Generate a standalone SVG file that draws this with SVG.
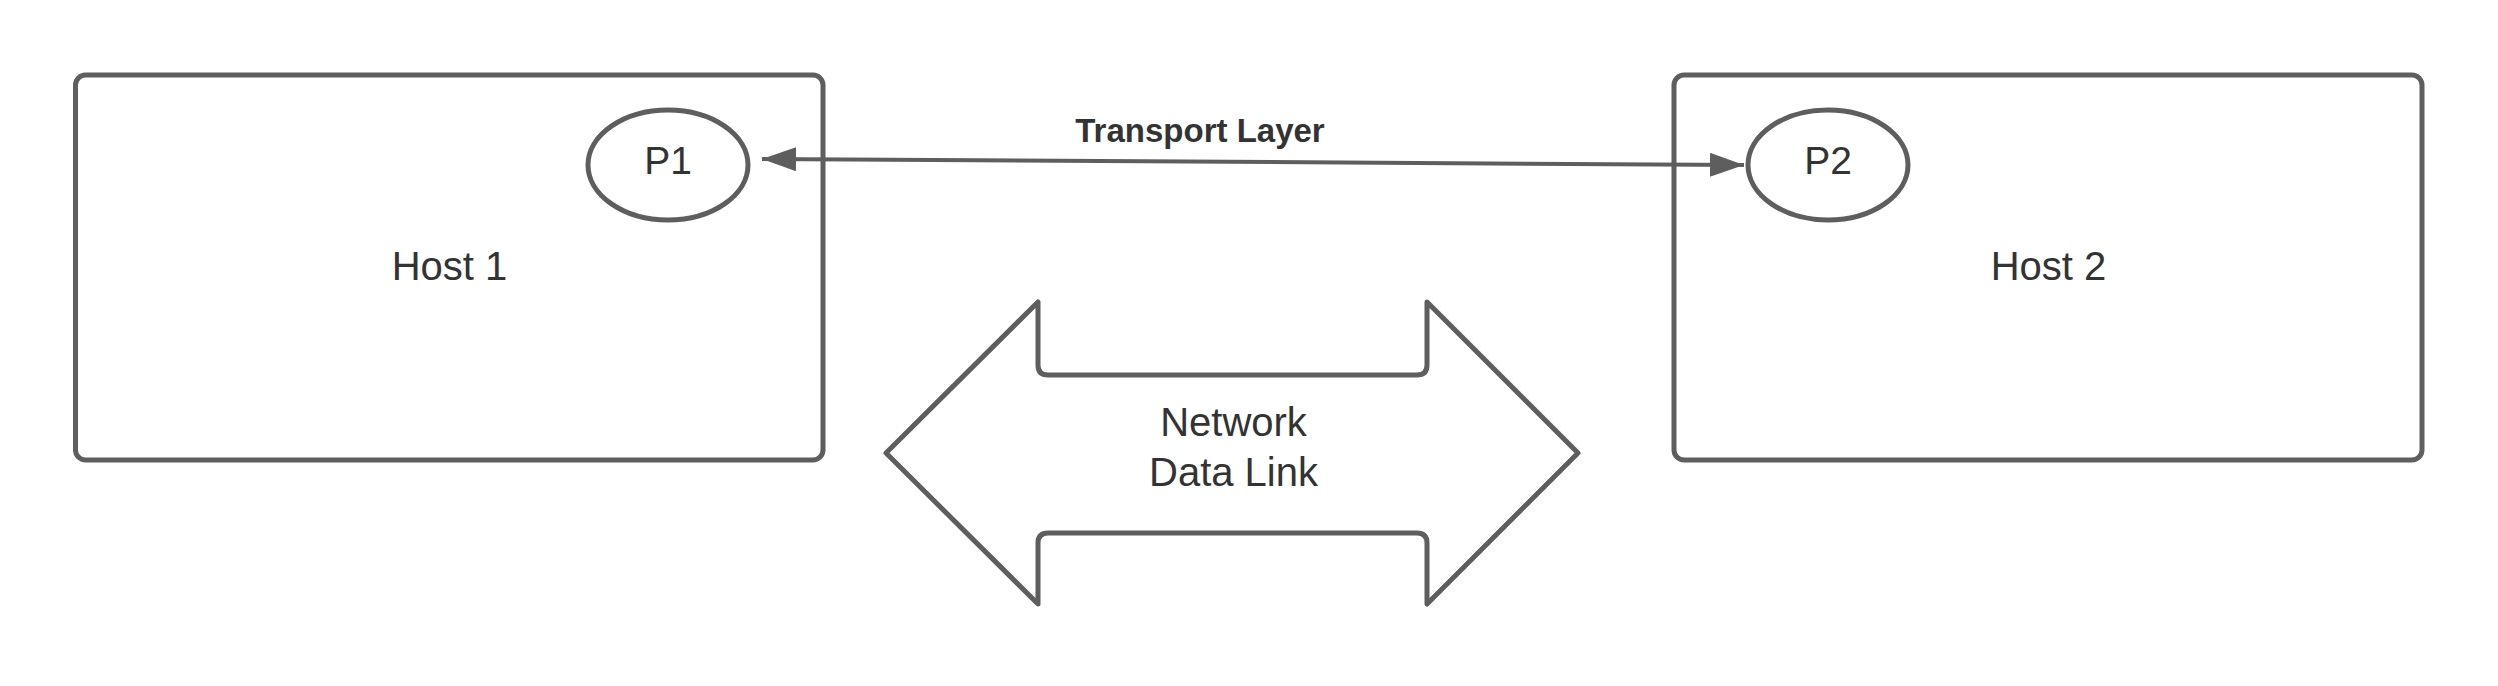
<svg xmlns="http://www.w3.org/2000/svg" width="2498" height="686" viewBox="0 0 2498 686">
<defs>
<style>
.shape{fill:#ffffff;stroke:#5e5e5e;stroke-width:5;stroke-linejoin:round}
.lbl{font-family:"Liberation Sans",Arial,sans-serif;fill:#333333;text-anchor:middle;font-size:40px}
.edge{stroke:#5e5e5e;stroke-width:4;fill:none}
.elbl{font-family:"Liberation Sans",Arial,sans-serif;fill:#333333;text-anchor:middle;font-size:33px;font-weight:bold}
</style>
<marker id="ah" viewBox="0 0 34 24" refX="34" refY="12" markerWidth="34" markerHeight="24" markerUnits="userSpaceOnUse" orient="auto-start-reverse">
<path d="M0,0 L34,12 L0,24 Z" fill="#5e5e5e"/>
</marker>
</defs>
<rect width="2498" height="686" fill="#ffffff"/>
<g id="host1">
<rect class="shape" x="75.5" y="75" width="747.5" height="385" rx="10"/>
<text class="lbl" x="449.5" y="280">Host 1</text>
</g>
<g id="host2">
<rect class="shape" x="1674" y="75" width="748" height="385" rx="10"/>
<text class="lbl" x="2048.5" y="280">Host 2</text>
</g>
<g id="connectors">
<line class="edge" x1="762" y1="159" x2="1744" y2="165" marker-start="url(#ah)" marker-end="url(#ah)"/>
<text class="elbl" x="1200" y="142">Transport Layer</text>
</g>
<g id="p1">
<ellipse class="shape" cx="668" cy="165" rx="80" ry="55"/>
<text class="lbl" x="668" y="174" style="font-size:39px">P1</text>
</g>
<g id="p2">
<ellipse class="shape" cx="1828" cy="165" rx="80" ry="55"/>
<text class="lbl" x="1828" y="174" style="font-size:39px">P2</text>
</g>
<g id="network">
<path class="shape" d="M886,453 L1038,302 L1038,365 Q1038,375 1048,375 L1417,375 Q1427,375 1427,365 L1427,302 L1578,453 L1427,604 L1427,543 Q1427,533 1417,533 L1048,533 Q1038,533 1038,543 L1038,604 Z"/>
<text class="lbl" x="1233.5" y="436">Network</text>
<text class="lbl" x="1233.5" y="486">Data Link</text>
</g>
</svg>
